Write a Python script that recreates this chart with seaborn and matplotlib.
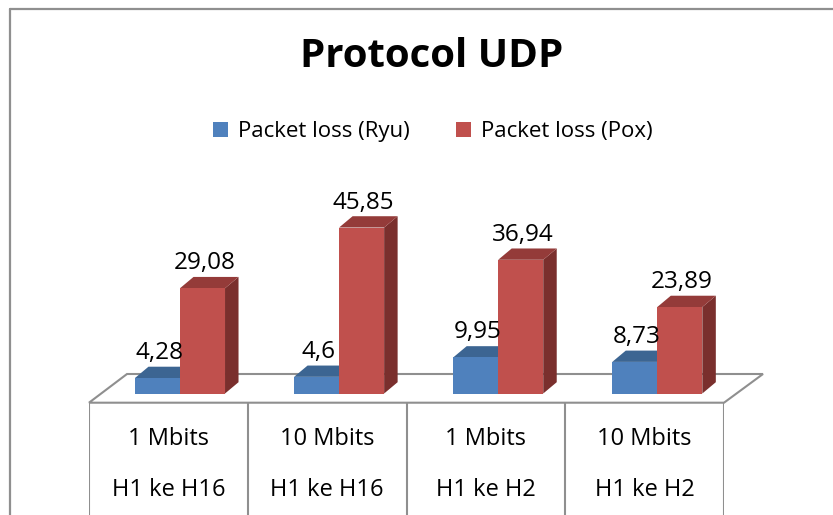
import numpy as np
import pandas as pd
import matplotlib
matplotlib.use('Agg')
import matplotlib.pyplot as plt
from matplotlib.patches import Polygon
from matplotlib.lines import Line2D
import seaborn as sns

# chart data
title = 'Protocol UDP'
speeds = ['1 Mbits', '10 Mbits', '1 Mbits', '10 Mbits']
routes = ['H1 ke H16', 'H1 ke H16', 'H1 ke H2', 'H1 ke H2']
series = ['Packet loss (Ryu)', 'Packet loss (Pox)']
ryu_loss = [4.28, 4.6, 9.95, 8.73]
pox_loss = [29.08, 45.85, 36.94, 23.89]

front_colors = ['#4F81BD', '#C0504D']
top_colors = ['#3C6592', '#943B39']
side_colors = ['#30507A', '#7A2F2D']
line_gray = '#8f8f8f'

W, H = 833, 515


def fx(x):
    return x / W


def fy(y):
    return 1 - y / H


cats = [f'{s}\n{r}' for s, r in zip(speeds, routes)]
df = pd.DataFrame({
    'cat': cats * 2,
    'loss': ryu_loss + pox_loss,
    'series': [series[0]] * 4 + [series[1]] * 4,
})

sns.set_theme(style='white')
plt.rcParams['font.family'] = ['Open Sans', 'DejaVu Sans']
plt.rcParams['text.color'] = 'black'

fig = plt.figure(figsize=(W / 100, H / 100), dpi=100)
fig.patch.set_facecolor('white')

# outer chart frame (cut off at the right and bottom)
fig.add_artist(Line2D([fx(10), fx(10)], [fy(8.5), 0], color=line_gray, lw=1.6))
fig.add_artist(Line2D([fx(10), 1], [fy(8.5), fy(8.5)], color=line_gray, lw=1.6))

# 3d floor
floor = [(89, 402.7), (127, 374), (763, 374), (724, 402.7)]
fig.add_artist(Polygon([(fx(x), fy(y)) for x, y in floor], closed=True,
                       transform=fig.transFigure, facecolor='white',
                       edgecolor=line_gray, lw=1.5, zorder=-1))

# bars
zero_px, px_per_unit = 393.5, 3.62
ymax = 55
ax = fig.add_axes([fx(100.45), fy(zero_px), (736.85 - 100.45) / W, ymax * px_per_unit / H])
ax.patch.set_visible(False)
sns.barplot(data=df, x='cat', y='loss', hue='series', hue_order=series,
            palette=front_colors, saturation=1, width=0.566, linewidth=0,
            legend=False, ax=ax, zorder=3)
ax.set_xlim(-0.5, 3.5)
ax.set_ylim(0, ymax)
ax.axis('off')

dx = 13.5 / 159.1
dy = 11.3 / px_per_unit
for i, cont in enumerate(ax.containers):
    for p in cont:
        x0, w, h = p.get_x(), p.get_width(), p.get_height()
        top = [(x0, h), (x0 + w, h), (x0 + w + dx, h + dy), (x0 + dx, h + dy)]
        side = [(x0 + w, 0), (x0 + w + dx, dy), (x0 + w + dx, h + dy), (x0 + w, h)]
        ax.add_patch(Polygon(side, closed=True, facecolor=side_colors[i],
                             lw=0, zorder=2, clip_on=False))
        ax.add_patch(Polygon(top, closed=True, facecolor=top_colors[i],
                             lw=0, zorder=2, clip_on=False))
        ax.annotate(f'{h:g}'.replace('.', ','), xy=(x0 + w / 2, h),
                    xytext=(2, 25), textcoords='offset pixels',
                    ha='center', va='center', fontsize=17.5, color='black',
                    annotation_clip=False)

# category table under the floor
tax = fig.add_axes([fx(89), 0, (724 - 89) / W, fy(402.7)])
tax.patch.set_visible(False)
tax.set_xlim(-0.5, 3.5)
tax.set_ylim(H - 402.7, 0)
tax.axis('off')
for i in range(len(cats) + 1):
    tax.axvline(i - 0.5, color=line_gray, lw=1.5)
for i, (s, r) in enumerate(zip(speeds, routes)):
    tax.text(i, 439 - 402.7, s, ha='center', va='center', fontsize=17)
    tax.text(i, 490 - 402.7, r, ha='center', va='center', fontsize=17)

# title and legend
fig.text(fx(431.5), fy(66.7), title, ha='center', va='baseline',
         fontsize=29, fontweight='bold')
handles = [Line2D([], [], marker='s', ls='', markersize=10.8,
                  markerfacecolor=c, markeredgewidth=0) for c in front_colors]
fig.legend(handles, series, loc='center', bbox_to_anchor=(fx(432), fy(131)),
           ncol=2, frameon=False, fontsize=16, handlelength=0.8,
           handletextpad=0.4, columnspacing=2.0)

fig.savefig('out.png', dpi=100)
